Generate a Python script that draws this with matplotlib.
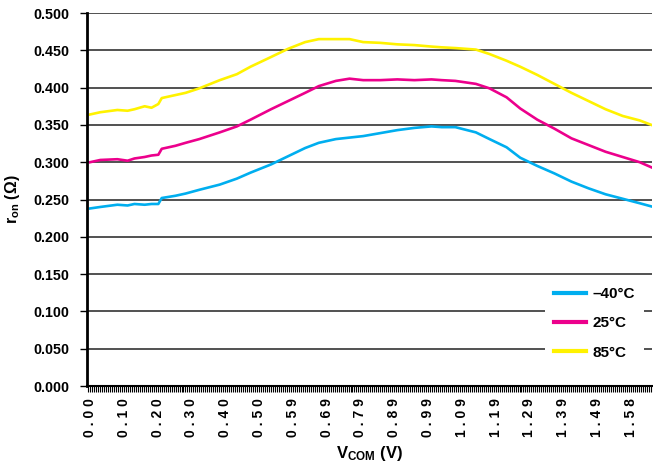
import matplotlib
matplotlib.use("Agg")
import matplotlib.pyplot as plt
import numpy as np
from matplotlib.ticker import FixedLocator, MultipleLocator

plt.rcParams["font.family"] = ["Liberation Sans", "DejaVu Sans"]
plt.rcParams["font.weight"] = "bold"
plt.rcParams["axes.labelweight"] = "bold"
plt.rcParams["mathtext.fontset"] = "custom"
plt.rcParams["mathtext.rm"] = "Liberation Sans:bold"
plt.rcParams["mathtext.it"] = "Liberation Sans:bold"
plt.rcParams["mathtext.bf"] = "Liberation Sans:bold"

# V_COM sweep (V)
vcom = [0.00, 0.03, 0.08, 0.11, 0.13, 0.16, 0.18, 0.20, 0.21, 0.25,
        0.28, 0.32, 0.38, 0.43, 0.47, 0.53, 0.58, 0.63, 0.67, 0.72,
        0.76, 0.80, 0.85, 0.90, 0.95, 1.00, 1.03, 1.07, 1.13, 1.17,
        1.22, 1.26, 1.31, 1.36, 1.41, 1.46, 1.51, 1.56, 1.61, 1.65]

# on-resistance (ohm) per temperature
ron_m40 = [0.238, 0.240, 0.243, 0.242, 0.244, 0.243, 0.244, 0.244, 0.252, 0.255,
           0.258, 0.263, 0.270, 0.278, 0.286, 0.297, 0.308, 0.319, 0.326, 0.331,
           0.333, 0.335, 0.339, 0.343, 0.346, 0.348, 0.347, 0.347, 0.340, 0.331,
           0.320, 0.306, 0.295, 0.285, 0.274, 0.265, 0.257, 0.251, 0.245, 0.240]
ron_25 = [0.300, 0.303, 0.304, 0.302, 0.305, 0.307, 0.309, 0.310, 0.318, 0.322,
          0.326, 0.331, 0.340, 0.348, 0.357, 0.371, 0.382, 0.393, 0.402, 0.409,
          0.412, 0.410, 0.410, 0.411, 0.410, 0.411, 0.410, 0.409, 0.405, 0.399,
          0.387, 0.372, 0.357, 0.345, 0.332, 0.323, 0.314, 0.307, 0.300, 0.292]
ron_85 = [0.364, 0.367, 0.370, 0.369, 0.371, 0.375, 0.373, 0.378, 0.386, 0.390,
          0.393, 0.399, 0.410, 0.418, 0.428, 0.441, 0.452, 0.461, 0.465, 0.465,
          0.465, 0.461, 0.460, 0.458, 0.457, 0.455, 0.454, 0.453, 0.451, 0.445,
          0.436, 0.428, 0.417, 0.405, 0.393, 0.382, 0.371, 0.362, 0.356, 0.349]

series = [("\u201340°C", ron_m40, "#00AEEF"),
          ("25°C", ron_25, "#EC008C"),
          ("85°C", ron_85, "#FFF200")]

xtick_labels = ["0.00", "0.10", "0.20", "0.30", "0.40", "0.50", "0.59", "0.69",
                "0.79", "0.89", "0.99", "1.09", "1.19", "1.29", "1.39", "1.49", "1.58"]
xtick_step = 0.099

fig = plt.figure(figsize=(6.53, 4.68), dpi=100)
ax = fig.add_axes([0.1332, 0.1752, 0.8653, 0.797])

for label, vals, color in series:
    ax.plot(vcom, vals, color=color, lw=1.9, label=label)

ax.set_xlim(-0.009, 1.646)
ax.set_ylim(0, 0.5)
ax.set_yticks(np.arange(0, 0.501, 0.05))
ax.set_yticklabels([f"{v:.3f}" for v in np.arange(0, 0.501, 0.05)], fontsize=10.3)
ax.yaxis.grid(True, color="#222222", lw=1.1)
ax.set_axisbelow(True)

ax.xaxis.set_major_locator(FixedLocator([i * xtick_step for i in range(len(xtick_labels))]))
ax.xaxis.set_minor_locator(MultipleLocator(xtick_step / 17))
ax.set_xticklabels([" ".join(s) for s in xtick_labels], rotation=90, fontsize=10)
ax.tick_params(axis="x", which="both", direction="out", length=4, width=0.8, pad=5)
ax.tick_params(axis="y", direction="out", length=5, width=1.0, pad=8)

for side in ("top", "right"):
    ax.spines[side].set_visible(False)
ax.spines["left"].set_linewidth(2)
ax.spines["bottom"].set_linewidth(1.5)

ax.set_ylabel(r"r$_{\mathrm{on}}$ ($\Omega$)", fontsize=11.5, labelpad=8)
ax.set_xlabel(r"V$_{\mathrm{COM}}$ (V)", fontsize=12, labelpad=5)

leg = ax.legend(loc="upper left", bbox_to_anchor=(0.797, 0.31), fontsize=11,
                handlelength=2.1, handletextpad=0.4, labelspacing=1.0,
                borderpad=0.6, frameon=True, fancybox=False, framealpha=1)
leg.get_frame().set_edgecolor("none")
leg.get_frame().set_facecolor("white")
for line in leg.get_lines():
    line.set_linewidth(3)

fig.savefig("out.png", dpi=100)
